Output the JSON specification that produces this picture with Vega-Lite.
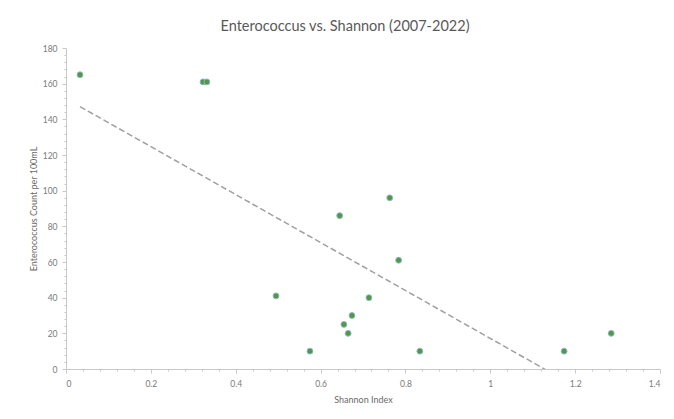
{
  "$schema": "https://vega.github.io/schema/vega-lite/v6.json",
  "autosize": "none",
  "width": 594,
  "height": 321,
  "padding": {"left": 66, "top": 48, "right": 14, "bottom": 50},
  "background": "white",
  "title": {
    "text": "Enterococcus vs. Shannon (2007-2022)",
    "font": "Lato",
    "fontSize": 14.5,
    "fontWeight": "normal",
    "color": "#595959",
    "offset": 10,
    "dx": -18
  },
  "config": {
    "view": {"stroke": null},
    "axis": {
      "grid": false,
      "domainColor": "#c8c8c8",
      "tickColor": "#c8c8c8",
      "labelFont": "Lato",
      "labelFontSize": 8.5,
      "labelColor": "#7a7a7a",
      "titleFont": "Lato",
      "titleFontSize": 9,
      "titleFontWeight": "normal",
      "titleColor": "#6a6a6a"
    }
  },
  "data": {
    "values": [
      {"shannon": 0.033, "count": 165},
      {"shannon": 0.323, "count": 161},
      {"shannon": 0.332, "count": 161},
      {"shannon": 0.495, "count": 41},
      {"shannon": 0.575, "count": 10},
      {"shannon": 0.645, "count": 86},
      {"shannon": 0.655, "count": 25},
      {"shannon": 0.665, "count": 20},
      {"shannon": 0.674, "count": 30},
      {"shannon": 0.714, "count": 40},
      {"shannon": 0.763, "count": 96},
      {"shannon": 0.784, "count": 61},
      {"shannon": 0.834, "count": 10},
      {"shannon": 1.174, "count": 10},
      {"shannon": 1.285, "count": 20}
    ]
  },
  "resolve": {"axis": {"x": "independent", "y": "independent"}},
  "layer": [
    {
      "mark": {"type": "point", "opacity": 0},
      "encoding": {
        "x": {
          "field": "shannon",
          "type": "quantitative",
          "scale": {"domain": [0, 1.4], "nice": false},
          "axis": {
            "orient": "bottom",
            "title": null,
            "labels": false,
            "domain": false,
            "values": [0.04, 0.08, 0.12, 0.16, 0.24, 0.28, 0.32, 0.36, 0.44, 0.48, 0.52, 0.56, 0.64, 0.68, 0.72, 0.76, 0.84, 0.88, 0.92, 0.96, 1.04, 1.08, 1.12, 1.16, 1.24, 1.28, 1.32, 1.36],
            "tickSize": 2
          }
        },
        "y": {
          "field": "count",
          "type": "quantitative",
          "scale": {"domain": [0, 180], "nice": false},
          "axis": {
            "orient": "left",
            "title": null,
            "labels": false,
            "domain": false,
            "values": [4, 8, 12, 16, 24, 28, 32, 36, 44, 48, 52, 56, 64, 68, 72, 76, 84, 88, 92, 96, 104, 108, 112, 116, 124, 128, 132, 136, 144, 148, 152, 156, 164, 168, 172, 176],
            "tickSize": 2
          }
        }
      }
    },
    {
      "encoding": {
        "x": {
          "field": "shannon",
          "type": "quantitative",
          "scale": {"domain": [0, 1.4], "nice": false},
          "axis": {
            "orient": "bottom",
            "title": "Shannon Index",
            "values": [0, 0.2, 0.4, 0.6, 0.8, 1, 1.2, 1.4],
            "format": "~g",
            "tickSize": 4,
            "labelPadding": 6,
            "titlePadding": 8
          }
        },
        "y": {
          "field": "count",
          "type": "quantitative",
          "scale": {"domain": [0, 180], "nice": false},
          "axis": {
            "orient": "left",
            "title": "Enterococcus Count per 100mL",
            "values": [0, 20, 40, 60, 80, 100, 120, 140, 160, 180],
            "tickSize": 4,
            "labelPadding": 5,
            "titlePadding": 4
          }
        }
      },
      "layer": [
        {
          "transform": [{"regression": "count", "on": "shannon"}],
          "mark": {"type": "line", "clip": true, "color": "#a0a0a0", "strokeDash": [6, 3], "strokeWidth": 1.5}
        },
        {
          "mark": {"type": "point", "filled": true, "size": 34, "fill": "#4f9a3c", "stroke": "#8db3d6", "strokeWidth": 1, "opacity": 1}
        }
      ]
    }
  ]
}
